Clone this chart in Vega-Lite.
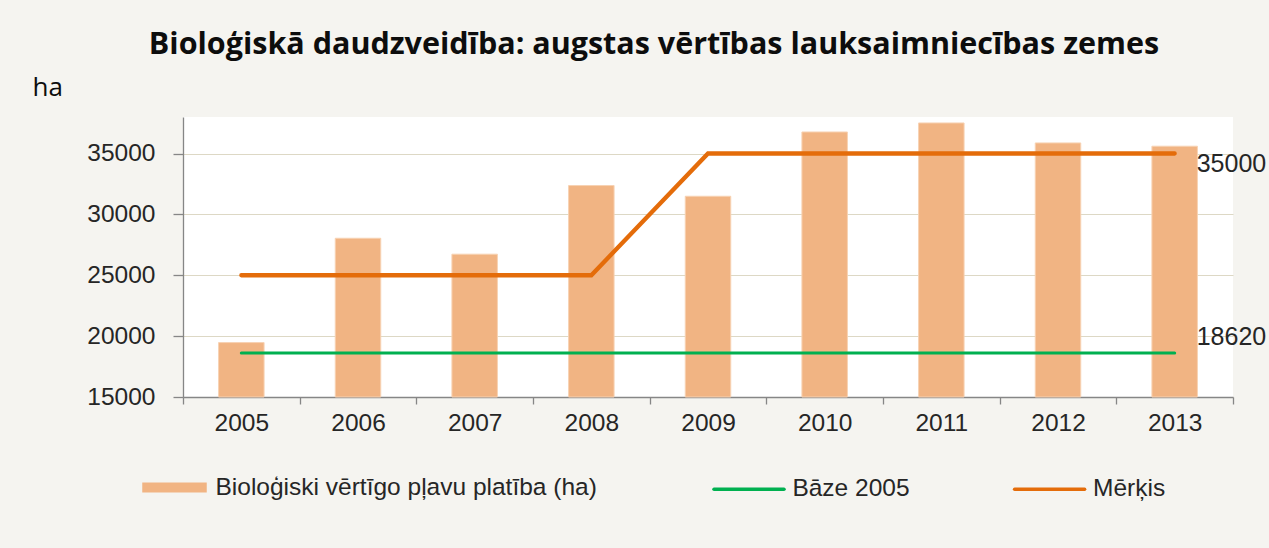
{
  "$schema": "https://vega.github.io/schema/vega-lite/v6.json",
  "width": 1050,
  "height": 280,
  "autosize": {"type": "none"},
  "padding": {"left": 183, "top": 117, "right": 36, "bottom": 151},
  "background": "#f5f4f0",
  "title": {
    "text": "Bioloģiskā daudzveidība: augstas vērtības lauksaimniecības zemes",
    "font": "Open Sans",
    "fontWeight": "bold",
    "fontSize": 30.5,
    "color": "#0d0d0d",
    "anchor": "middle",
    "frame": "group",
    "baseline": "alphabetic",
    "dx": -54,
    "dy": 10,
    "offset": 0
  },
  "config": {
    "view": {"fill": "white", "stroke": null},
    "axis": {
      "labelFont": "Liberation Sans",
      "labelFontSize": 24.5,
      "labelColor": "#262626",
      "domainColor": "#868686",
      "domainWidth": 1.3,
      "tickColor": "#868686",
      "tickWidth": 1.3
    }
  },
  "data": {
    "values": [
      {"year": "2005", "series": "Bioloģiski vērtīgo pļavu platība (ha)", "value": 19470},
      {"year": "2006", "series": "Bioloģiski vērtīgo pļavu platība (ha)", "value": 28040},
      {"year": "2007", "series": "Bioloģiski vērtīgo pļavu platība (ha)", "value": 26730},
      {"year": "2008", "series": "Bioloģiski vērtīgo pļavu platība (ha)", "value": 32370},
      {"year": "2009", "series": "Bioloģiski vērtīgo pļavu platība (ha)", "value": 31490},
      {"year": "2010", "series": "Bioloģiski vērtīgo pļavu platība (ha)", "value": 36770},
      {"year": "2011", "series": "Bioloģiski vērtīgo pļavu platība (ha)", "value": 37510},
      {"year": "2012", "series": "Bioloģiski vērtīgo pļavu platība (ha)", "value": 35870},
      {"year": "2013", "series": "Bioloģiski vērtīgo pļavu platība (ha)", "value": 35600},
      {"year": "2005", "series": "Bāze 2005", "value": 18620},
      {"year": "2006", "series": "Bāze 2005", "value": 18620},
      {"year": "2007", "series": "Bāze 2005", "value": 18620},
      {"year": "2008", "series": "Bāze 2005", "value": 18620},
      {"year": "2009", "series": "Bāze 2005", "value": 18620},
      {"year": "2010", "series": "Bāze 2005", "value": 18620},
      {"year": "2011", "series": "Bāze 2005", "value": 18620},
      {"year": "2012", "series": "Bāze 2005", "value": 18620},
      {"year": "2013", "series": "Bāze 2005", "value": 18620},
      {"year": "2005", "series": "Mērķis", "value": 25000},
      {"year": "2006", "series": "Mērķis", "value": 25000},
      {"year": "2007", "series": "Mērķis", "value": 25000},
      {"year": "2008", "series": "Mērķis", "value": 25000},
      {"year": "2009", "series": "Mērķis", "value": 35000},
      {"year": "2010", "series": "Mērķis", "value": 35000},
      {"year": "2011", "series": "Mērķis", "value": 35000},
      {"year": "2012", "series": "Mērķis", "value": 35000},
      {"year": "2013", "series": "Mērķis", "value": 35000}
    ]
  },
  "encoding": {
    "x": {
      "field": "year",
      "type": "ordinal",
      "scale": {"paddingInner": 0, "paddingOuter": 0},
      "axis": {
        "title": null,
        "labelAngle": 0,
        "tickBand": "extent",
        "tickSize": 7,
        "labelPadding": 7,
        "grid": false
      }
    },
    "y": {
      "field": "value",
      "type": "quantitative",
      "scale": {"domain": [15000, 38000], "zero": false, "nice": false},
      "axis": {
        "values": [15000, 20000, 25000, 30000, 35000],
        "format": "d",
        "title": "ha",
        "titleAngle": 0,
        "titleAlign": "left",
        "titleBaseline": "alphabetic",
        "titleX": -151,
        "titleY": -22,
        "titleFont": "Open Sans",
        "titleFontSize": 26,
        "titleFontWeight": "normal",
        "titleColor": "#0d0d0d",
        "tickSize": 10,
        "labelPadding": 18,
        "grid": true,
        "gridColor": "#ddd8c5",
        "gridWidth": 1
      }
    }
  },
  "layer": [
    {
      "transform": [{"filter": "datum.series === 'Bioloģiski vērtīgo pļavu platība (ha)'"}],
      "mark": {"type": "bar", "width": {"band": 0.39}, "stroke": "#f7d2b3", "strokeWidth": 1},
      "encoding": {
        "y2": {"datum": 15000},
        "fill": {
          "field": "series",
          "type": "nominal",
          "scale": {"range": ["#f1b483"]},
          "legend": {
            "orient": "none",
            "legendX": -41,
            "legendY": 338,
            "title": null,
            "padding": 0,
            "symbolType": "M-1,-0.155H1V0.155H-1Z",
            "symbolSize": 4160,
            "symbolStrokeWidth": 0,
            "labelFont": "Liberation Sans",
            "labelFontSize": 24.5,
            "labelColor": "#262626",
            "labelOffset": 8.5,
            "labelLimit": 600
          }
        }
      }
    },
    {
      "transform": [{"filter": "datum.series === 'Bāze 2005'"}],
      "mark": {"type": "line", "strokeWidth": 3, "strokeCap": "round"},
      "encoding": {
        "stroke": {
          "field": "series",
          "type": "nominal",
          "scale": {"domain": ["Bāze 2005", "Mērķis"], "range": ["#00b050", "#e46c0a"]},
          "legend": {
            "orient": "none",
            "direction": "horizontal",
            "legendX": 529,
            "legendY": 335,
            "title": null,
            "padding": 0,
            "symbolType": "stroke",
            "symbolSize": 4900,
            "symbolStrokeWidth": 3.5,
            "columnPadding": 97.6,
            "labelFont": "Liberation Sans",
            "labelFontSize": 24.5,
            "labelColor": "#262626",
            "labelOffset": 6.4,
            "encode": {"symbols": {"update": {"strokeCap": {"value": "round"}}}}
          }
        }
      }
    },
    {
      "transform": [{"filter": "datum.series === 'Mērķis'"}],
      "mark": {"type": "line", "strokeWidth": 4.3, "strokeCap": "round"},
      "encoding": {
        "stroke": {"field": "series", "type": "nominal"}
      }
    },
    {
      "transform": [{"filter": "datum.series === 'Mērķis' && datum.year === '2013'"}],
      "mark": {"type": "text", "align": "left", "baseline": "alphabetic", "dx": 22, "dy": 18.4, "font": "Liberation Sans", "fontSize": 25, "color": "#262626"},
      "encoding": {
        "text": {"field": "value", "type": "quantitative", "format": "d"}
      }
    },
    {
      "transform": [{"filter": "datum.series === 'Bāze 2005' && datum.year === '2013'"}],
      "mark": {"type": "text", "align": "left", "baseline": "alphabetic", "dx": 22, "dy": -7.6, "font": "Liberation Sans", "fontSize": 25, "color": "#262626"},
      "encoding": {
        "text": {"field": "value", "type": "quantitative", "format": "d"}
      }
    }
  ]
}
